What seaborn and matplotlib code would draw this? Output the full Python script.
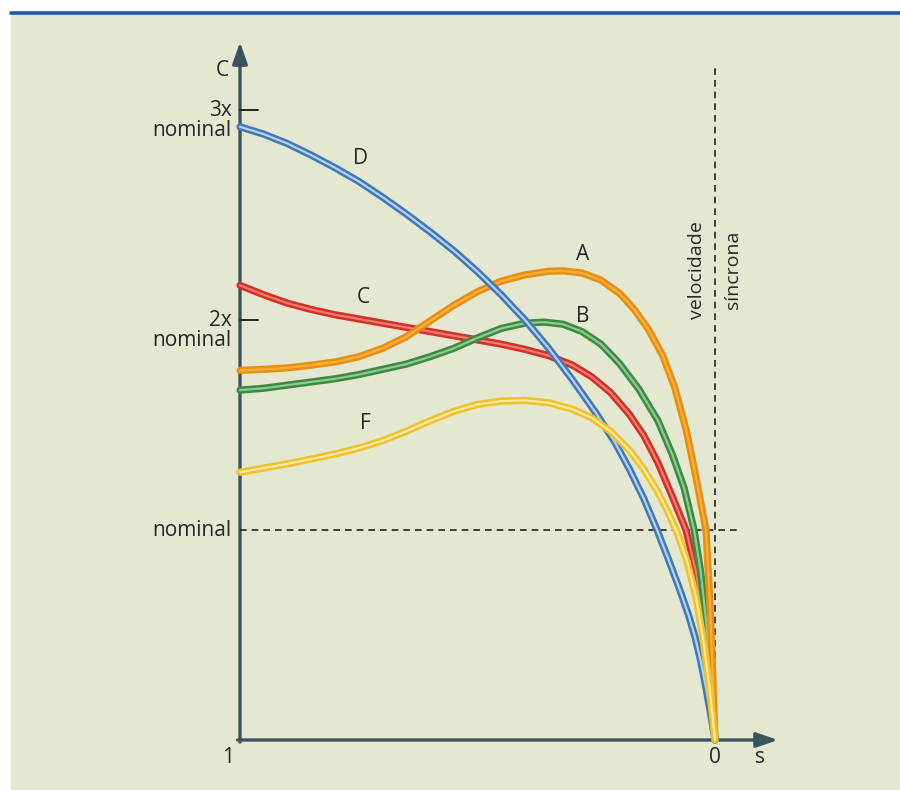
import pandas as pd
import matplotlib.pyplot as plt
import seaborn as sns
from matplotlib.patches import Rectangle
from matplotlib.lines import Line2D

# === 1. Daten (Schlupf s, Moment C / C_nominal) ===
slip_A = [1.0, 0.95, 0.90, 0.85, 0.80, 0.75, 0.70, 0.65, 0.60, 0.55, 0.50, 0.45, 0.40, 0.35, 0.32,
          0.28, 0.24, 0.20, 0.17, 0.14, 0.11, 0.085, 0.06, 0.04, 0.019, 0.011, 0.005, 0.0]
torque_A = [1.76, 1.765, 1.772, 1.785, 1.80, 1.825, 1.865, 1.92, 1.995, 2.07, 2.135, 2.185, 2.215, 2.232, 2.234,
            2.224, 2.19, 2.125, 2.05, 1.955, 1.83, 1.68, 1.47, 1.25, 1.0, 0.67, 0.33, 0.0]

slip_B = [1.0, 0.95, 0.90, 0.85, 0.80, 0.75, 0.70, 0.65, 0.60, 0.55, 0.50, 0.45, 0.40, 0.36, 0.32,
          0.28, 0.24, 0.20, 0.16, 0.12, 0.09, 0.065, 0.044, 0.03, 0.018, 0.008, 0.0]
torque_B = [1.666, 1.675, 1.69, 1.705, 1.72, 1.74, 1.765, 1.79, 1.825, 1.865, 1.915, 1.96, 1.985, 1.99, 1.98,
            1.945, 1.885, 1.79, 1.67, 1.52, 1.36, 1.2, 1.0, 0.8, 0.55, 0.28, 0.0]

slip_C = [1.0, 0.95, 0.90, 0.85, 0.80, 0.75, 0.70, 0.65, 0.60, 0.55, 0.50, 0.45, 0.40, 0.35, 0.30,
          0.26, 0.22, 0.18, 0.15, 0.12, 0.09, 0.061, 0.04, 0.025, 0.012, 0.0]
torque_C = [2.165, 2.12, 2.08, 2.05, 2.025, 2.005, 1.985, 1.965, 1.945, 1.925, 1.905, 1.885, 1.86, 1.83, 1.785,
            1.73, 1.655, 1.55, 1.45, 1.32, 1.16, 1.0, 0.80, 0.58, 0.32, 0.0]

slip_D = [1.0, 0.95, 0.90, 0.85, 0.80, 0.75, 0.70, 0.65, 0.60, 0.55, 0.50, 0.45, 0.40, 0.35, 0.30,
          0.25, 0.21, 0.179, 0.15, 0.122, 0.098, 0.074, 0.055, 0.042, 0.03, 0.02, 0.01, 0.0]
torque_D = [2.92, 2.885, 2.84, 2.785, 2.725, 2.66, 2.585, 2.505, 2.42, 2.33, 2.23, 2.12, 2.0, 1.865, 1.715,
            1.555, 1.415, 1.285, 1.15, 1.0, 0.86, 0.715, 0.59, 0.49, 0.375, 0.26, 0.135, 0.0]

slip_F = [1.0, 0.95, 0.90, 0.85, 0.80, 0.75, 0.70, 0.65, 0.60, 0.55, 0.50, 0.45, 0.40, 0.35, 0.30,
          0.26, 0.22, 0.18, 0.15, 0.12, 0.10, 0.08, 0.06, 0.04, 0.025, 0.012, 0.0]
torque_F = [1.275, 1.295, 1.315, 1.338, 1.362, 1.39, 1.425, 1.47, 1.52, 1.565, 1.598, 1.614, 1.617, 1.606, 1.575,
            1.535, 1.47, 1.38, 1.29, 1.18, 1.09, 0.99, 0.86, 0.68, 0.48, 0.26, 0.0]

# Beschriftungen der Kurven (Position in Datenkoordinaten)
curve_names = ["C", "B", "A", "D", "F"]
label_pos = {"D": (0.747, 2.771), "C": (0.741, 2.105), "A": (0.278, 2.31),
             "B": (0.278, 2.019), "F": (0.737, 1.505)}

y_ticks = [3, 2, 1]
y_tick_labels = ["3x\nnominal", "2x\nnominal", "nominal"]

# === 2. Long-Format ===
frames = []
for name, s, c in [("A", slip_A, torque_A), ("B", slip_B, torque_B), ("C", slip_C, torque_C),
                   ("D", slip_D, torque_D), ("F", slip_F, torque_F)]:
    frames.append(pd.DataFrame({"curva": name, "s": s, "C": c}))
df = pd.concat(frames, ignore_index=True)

outer = {"A": "#e88f10", "B": "#3b8a43", "C": "#d2302a", "D": "#3f78b8", "F": "#efc12a"}
inner = {"A": "#f6ae3c", "B": "#92c98e", "C": "#f07d6c", "D": "#b6d2ee", "F": "#fbe9a2"}

# === 3. Figur ===
sns.set_style("white")
plt.rcParams["font.family"] = ["Open Sans", "DejaVu Sans"]

panel = "#e4e8d0"
axis_col = "#3b535d"

fig = plt.figure(figsize=(9, 7.9), dpi=100)
fig.patch.set_facecolor("white")
fig.add_artist(Rectangle((11 / 900, 0), 889 / 900, 776 / 790, transform=fig.transFigure,
                         color=panel, zorder=0))
fig.add_artist(Line2D([11 / 900, 1], [1 - 12.5 / 790] * 2, transform=fig.transFigure,
                      lw=2.6, color="#1d5ba7"))

ax = fig.add_axes([200 / 900, 1 - 760 / 790, 600 / 900, 730 / 790])
ax.set_facecolor("none")

# Kurven als "Rohre": dunkler Rand + heller Kern
for name in curve_names:
    sub = df[df["curva"] == name]
    sns.lineplot(data=sub, x="s", y="C", color=outer[name], lw=5.2, ax=ax,
                 estimator=None, sort=False, legend=False, solid_capstyle="round",
                 solid_joinstyle="round")
    sns.lineplot(data=sub, x="s", y="C", color=inner[name], lw=1.6, ax=ax,
                 estimator=None, sort=False, legend=False, solid_capstyle="round",
                 solid_joinstyle="round")

ax.set_xlim((715 - 200) / 475, (715 - 800) / 475)
ax.set_ylim((740 - 760) / 210, (740 - 30) / 210)
ax.set_axis_off()

# Achsen mit Pfeilen
arrow = dict(arrowstyle="-|>,head_length=1.3,head_width=0.45", color=axis_col, lw=2.4,
             shrinkA=0, shrinkB=0)
ax.annotate("", xy=(1.0, (740 - 42) / 210), xytext=(1.0, -0.01), arrowprops=arrow, zorder=1)
ax.annotate("", xy=((715 - 778) / 475, 0.0), xytext=(1.005, 0.0), arrowprops=arrow, zorder=1)

# Gestrichelte Linien
ax.plot([1.0, (715 - 738) / 475], [1, 1], ls=(0, (4, 3)), color="#222222", lw=1.2, zorder=1)
ax.plot([0, 0], [0, (740 - 65) / 210], ls=(0, (4, 3)), color="#222222", lw=1.2, zorder=1)

# y-Ticks
for t, lab in zip(y_ticks, y_tick_labels):
    if t > 1:
        ax.plot([1.0, 0.962], [t, t], color="#222222", lw=1.4)
    ax.text(1.018, t + (0.0 if t == 1 else -0.05), lab, ha="right", va="center",
            fontsize=15, linespacing=0.95, multialignment="right")

ax.text(1.038, 3.19, "C", ha="center", va="center", fontsize=15)
ax.text(1.025, -0.085, "1", ha="center", va="center", fontsize=15)
ax.text(0.0, -0.085, "0", ha="center", va="center", fontsize=15)
ax.text(-0.095, -0.085, "s", ha="center", va="center", fontsize=15)

ax.text(0.038, 2.238, "velocidade", rotation=90, ha="center", va="center", fontsize=14)
ax.text(-0.038, 2.238, "síncrona", rotation=90, ha="center", va="center", fontsize=14)

for name, (x, y) in label_pos.items():
    ax.text(x, y, name, ha="center", va="center", fontsize=15)

fig.savefig("out.png", dpi=100)
